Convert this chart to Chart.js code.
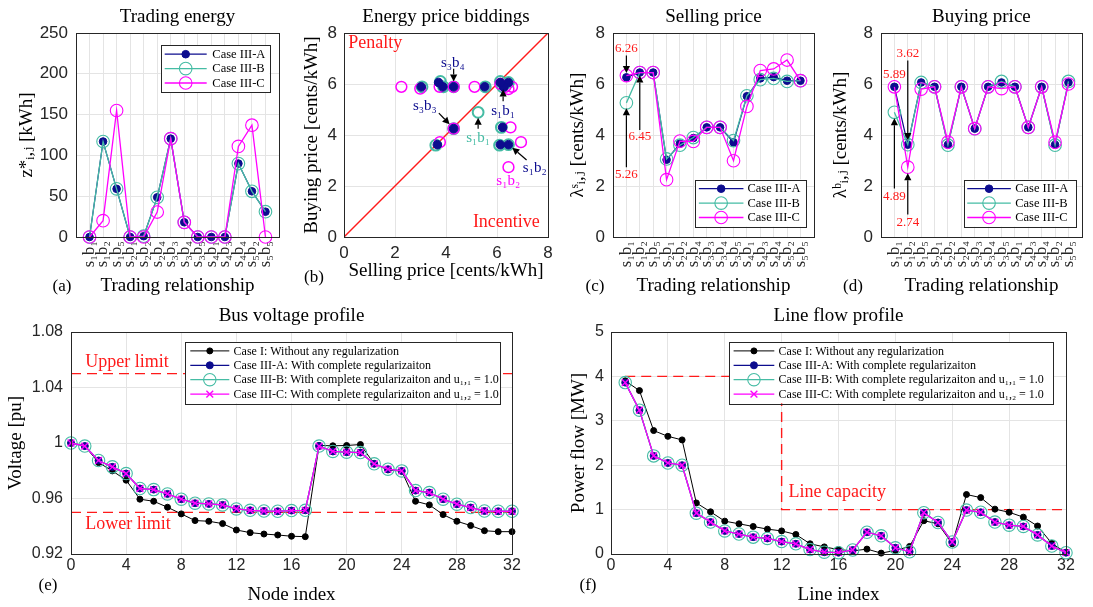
<!DOCTYPE html>
<html>
<head>
<meta charset="utf-8">
<script src="https://cdn.jsdelivr.net/npm/chart.js@4.4.1/dist/chart.umd.min.js"></script>
<style>
  body { margin: 0; background: #fff; width: 1093px; height: 607px; position: relative; overflow: hidden; }
  canvas { position: absolute; }
  .tag { position: absolute; font: 17px 'Liberation Serif', 'DejaVu Serif', serif; color: #000; transform: translate(-50%, -50%); }
</style>
</head>
<body>
<canvas id="ca" width="290" height="300" style="left:0;top:0"></canvas>
<canvas id="cb" width="270" height="300" style="left:290px;top:0"></canvas>
<canvas id="cc" width="265" height="300" style="left:560px;top:0"></canvas>
<canvas id="cd" width="265" height="300" style="left:828px;top:0"></canvas>
<canvas id="ce" width="550" height="307" style="left:0;top:300px"></canvas>
<canvas id="cf" width="543" height="307" style="left:550px;top:300px"></canvas>
<div class="tag" style="left:62px;top:286px">(a)</div>
<div class="tag" style="left:314px;top:277px">(b)</div>
<div class="tag" style="left:595px;top:286px">(c)</div>
<div class="tag" style="left:853px;top:286px">(d)</div>
<div class="tag" style="left:48px;top:585px">(e)</div>
<div class="tag" style="left:588px;top:585px">(f)</div>
<script>
// trading pairs (x axis of a, c, d)
const pairs = ['s₁b₁', 's₁b₂', 's₁b₅', 's₂b₁', 's₂b₂', 's₂b₄', 's₃b₃', 's₃b₄', 's₃b₅', 's₄b₁', 's₄b₃', 's₄b₄', 's₅b₂', 's₅b₅'];
const pairPos = [1, 2, 3, 4, 5, 6, 7, 8, 9, 10, 11, 12, 13, 14];

// trading energy [kWh]
const energyA = [0, 117, 59, 0, 1, 48.6, 120.5, 18, 0, 0, 0, 90, 56, 31];
const energyB = [0, 117, 59, 0, 1, 48.6, 120.5, 18, 0, 0, 0, 90, 56, 31];
const energyC = [0, 20, 155, 0, 0, 30.6, 120.5, 18, 0, 0, 0, 111, 137, 0];

// selling price [cents/kWh]
const sellA = [6.26, 6.45, 6.45, 3.03, 3.66, 3.88, 4.30, 4.30, 3.71, 5.52, 6.22, 6.27, 6.13, 6.13];
const sellB = [5.26, 6.45, 6.45, 3.06, 3.60, 3.90, 4.30, 4.30, 3.78, 5.54, 6.17, 6.22, 6.10, 6.13];
const sellC = [6.33, 6.45, 6.45, 2.25, 3.76, 3.75, 4.30, 4.30, 2.99, 5.12, 6.53, 6.59, 6.94, 6.13];

// buying price [cents/kWh]
const buyA = [5.89, 3.62, 6.06, 5.89, 3.62, 5.89, 4.25, 5.89, 6.06, 5.89, 4.30, 5.89, 3.62, 6.06];
const buyB = [4.89, 3.62, 6.06, 5.89, 3.60, 5.89, 4.25, 5.89, 6.10, 5.89, 4.30, 5.89, 3.60, 6.10];
const buyC = [5.89, 2.74, 5.80, 5.89, 3.72, 5.89, 4.25, 5.89, 5.82, 5.89, 4.30, 5.89, 3.72, 6.00];

// bus voltage [pu]
const nodes = [0, 1, 2, 3, 4, 5, 6, 7, 8, 9, 10, 11, 12, 13, 14, 15, 16, 17, 18, 19, 20, 21, 22, 23, 24, 25, 26, 27, 28, 29, 30, 31, 32];
const voltI = [1.0, 0.9978, 0.9859, 0.9799, 0.9732, 0.9595, 0.958, 0.9537, 0.9489, 0.9441, 0.9436, 0.9419, 0.9373, 0.9354, 0.9344, 0.9337, 0.9328, 0.9325, 0.9982, 0.998, 0.9982, 0.9989, 0.985, 0.9806, 0.9797, 0.958, 0.9554, 0.9484, 0.9436, 0.9405, 0.9368, 0.9361, 0.9361];
const voltA = [1.0, 0.9978, 0.9874, 0.9828, 0.978, 0.9672, 0.9664, 0.9633, 0.9595, 0.9566, 0.9561, 0.9554, 0.9525, 0.9515, 0.951, 0.9508, 0.9513, 0.9515, 0.9978, 0.9939, 0.9934, 0.9931, 0.985, 0.9811, 0.9799, 0.9657, 0.9643, 0.9595, 0.9559, 0.9535, 0.951, 0.9508, 0.9508];
const voltB = [1.0, 0.9978, 0.9874, 0.9828, 0.978, 0.9672, 0.9664, 0.9633, 0.9595, 0.9566, 0.9561, 0.9554, 0.9525, 0.9515, 0.951, 0.9508, 0.9513, 0.9515, 0.9978, 0.9939, 0.9934, 0.9931, 0.985, 0.9811, 0.9799, 0.9657, 0.9643, 0.9595, 0.9559, 0.9535, 0.951, 0.9508, 0.9508];
const voltC = [1.0, 0.9978, 0.9874, 0.9828, 0.978, 0.9672, 0.9664, 0.9633, 0.9595, 0.9566, 0.9561, 0.9554, 0.9525, 0.9515, 0.951, 0.9508, 0.9513, 0.9515, 0.9978, 0.9939, 0.9934, 0.9931, 0.985, 0.9811, 0.9799, 0.9657, 0.9643, 0.9595, 0.9559, 0.9535, 0.951, 0.9508, 0.9508];
const limitX = [0, 32];
const upperY = [1.05, 1.05];
const lowerY = [0.95, 0.95];

// line flow [MW]
const lines = [1, 2, 3, 4, 5, 6, 7, 8, 9, 10, 11, 12, 13, 14, 15, 16, 17, 18, 19, 20, 21, 22, 23, 24, 25, 26, 27, 28, 29, 30, 31, 32];
const flowI = [3.9, 3.68, 2.78, 2.65, 2.57, 1.15, 0.95, 0.74, 0.68, 0.62, 0.56, 0.52, 0.44, 0.23, 0.16, 0.1, 0.07, 0.11, 0.02, 0.08, 0.17, 0.75, 0.68, 0.23, 1.34, 1.27, 1.01, 0.94, 0.83, 0.63, 0.24, 0.03];
const flowA = [3.86, 3.24, 2.21, 2.05, 2.0, 0.92, 0.72, 0.52, 0.45, 0.38, 0.35, 0.28, 0.23, 0.1, 0.04, 0.03, 0.09, 0.49, 0.41, 0.14, 0.05, 0.93, 0.71, 0.27, 0.99, 0.94, 0.72, 0.65, 0.62, 0.43, 0.18, 0.03];
const flowB = [3.86, 3.24, 2.21, 2.05, 2.0, 0.92, 0.72, 0.52, 0.45, 0.38, 0.35, 0.28, 0.23, 0.1, 0.04, 0.03, 0.09, 0.49, 0.41, 0.14, 0.05, 0.93, 0.71, 0.27, 0.99, 0.94, 0.72, 0.65, 0.62, 0.43, 0.18, 0.03];
const flowC = [3.86, 3.24, 2.21, 2.05, 2.0, 0.92, 0.72, 0.52, 0.45, 0.38, 0.35, 0.28, 0.23, 0.1, 0.04, 0.03, 0.09, 0.49, 0.41, 0.14, 0.05, 0.93, 0.71, 0.27, 0.99, 0.94, 0.72, 0.65, 0.62, 0.43, 0.18, 0.03];
const capX = [1, 12, 12, 32];
const capY = [4, 4, 1, 1];

// tick labels
const energyTicks = [0, 50, 100, 150, 200, 250];
const priceTicks = [0, 2, 4, 6, 8];
const voltTicks = [0.92, 0.96, 1, 1.04, 1.08];
const flowTicks = [0, 1, 2, 3, 4, 5];
const indexTicks = [0, 4, 8, 12, 16, 20, 24, 28, 32];

const SERIF = "'Liberation Serif', 'DejaVu Serif', serif";
const SANS = "'Liberation Sans', Arial, sans-serif";
const NAVY = '#0c0c8e';
const TEAL = '#45bca4';
const MAG = '#ff00ff';
const RED = '#ff1a1a';
const INK = '#262626';

Chart.defaults.animation = false;
Chart.defaults.events = [];
Chart.defaults.plugins.legend.display = false;
Chart.defaults.plugins.tooltip.enabled = false;

// 축 설정
function axis(o) {
  return {
    type: 'linear', min: o.min, max: o.max,
    afterBuildTicks: s => { s.ticks = o.ticks.map(v => ({ value: v })); },
    afterFit: s => { if (s.isHorizontal()) s.height = o.size; else s.width = o.size; },
    grid: { color: '#e4e4e4', drawTicks: false },
    border: { color: INK },
    ticks: {
      color: INK, autoSkip: false, padding: o.pad,
      font: { family: o.tickFont || SANS, size: o.fs || 17 },
      minRotation: o.rot || 0, maxRotation: o.rot || 0,
      callback: o.fmt || (v => String(+v.toFixed(2)))
    },
    title: { display: true, text: o.title, color: '#000', font: { family: SERIF, size: 19 }, padding: o.tpad }
  };
}

function pts(xs, ys) {
  return ys.map((y, i) => ({ x: xs[i], y: y }));
}

function styleA(r) {
  return { borderColor: NAVY, backgroundColor: NAVY, borderWidth: 1.2, pointStyle: 'circle', pointRadius: r || 3.8,
    pointBackgroundColor: NAVY, pointBorderColor: NAVY, pointBorderWidth: 1, order: 3, clip: false };
}
function styleB(r) {
  return { borderColor: TEAL, backgroundColor: TEAL, borderWidth: 1.3, pointStyle: 'circle', pointRadius: r || 6.3,
    pointBackgroundColor: 'rgba(0,0,0,0)', pointBorderColor: TEAL, pointBorderWidth: 1.1, order: 2, clip: false };
}
function styleC(r) {
  return { borderColor: MAG, backgroundColor: MAG, borderWidth: 1.3, pointStyle: 'circle', pointRadius: r || 6.3,
    pointBackgroundColor: 'rgba(0,0,0,0)', pointBorderColor: MAG, pointBorderWidth: 1.1, order: 1, clip: false };
}
function styleI() {
  return { borderColor: '#000', backgroundColor: '#000', borderWidth: 1, pointStyle: 'circle', pointRadius: 3,
    pointBackgroundColor: '#000', pointBorderColor: '#000', pointBorderWidth: 1, order: 4, clip: false };
}
function dashed(xs, ys) {
  return { data: pts(xs, ys), borderColor: RED, borderWidth: 1.4, borderDash: [10, 6], pointRadius: 0, order: 5, clip: false };
}

function arrow(ctx, x1, y1, x2, y2) {
  const ang = Math.atan2(y2 - y1, x2 - x1);
  const len = 7, half = 3.6;
  const bx = x2 - Math.cos(ang) * len, by = y2 - Math.sin(ang) * len;
  ctx.strokeStyle = '#000';
  ctx.fillStyle = '#000';
  ctx.lineWidth = 1.2;
  ctx.beginPath();
  ctx.moveTo(x1, y1);
  ctx.lineTo(bx, by);
  ctx.stroke();
  ctx.beginPath();
  ctx.moveTo(x2, y2);
  ctx.lineTo(bx - Math.sin(ang) * half, by + Math.cos(ang) * half);
  ctx.lineTo(bx + Math.sin(ang) * half, by - Math.cos(ang) * half);
  ctx.closePath();
  ctx.fill();
}

function marker(ctx, d, x, y) {
  const r = d.pointRadius;
  ctx.lineWidth = d.pointBorderWidth;
  ctx.strokeStyle = d.pointBorderColor;
  ctx.fillStyle = d.pointBackgroundColor;
  ctx.beginPath();
  if (d.pointStyle === 'crossRot') {
    const k = r * Math.SQRT1_2;
    ctx.moveTo(x - k, y - k); ctx.lineTo(x + k, y + k);
    ctx.moveTo(x - k, y + k); ctx.lineTo(x + k, y - k);
    ctx.stroke();
    return;
  }
  ctx.arc(x, y, r, 0, Math.PI * 2);
  ctx.fill();
  ctx.stroke();
}

function drawLegend(chart, o) {
  const { ctx, chartArea: a } = chart;
  const sets = chart.data.datasets.filter(d => d.label);
  const bh = o.pad * 2 + sets.length * o.rowH;
  const bx = a.right - o.right - o.width;
  const by = o.top != null ? a.top + o.top : a.bottom - o.bottom - bh;
  ctx.fillStyle = '#fff';
  ctx.fillRect(bx, by, o.width, bh);
  ctx.strokeStyle = INK;
  ctx.lineWidth = 1;
  ctx.setLineDash([]);
  ctx.strokeRect(Math.round(bx) + 0.5, Math.round(by) + 0.5, Math.round(o.width), Math.round(bh));
  sets.forEach((d, i) => {
    const cy = by + o.pad + o.rowH * (i + 0.5);
    ctx.strokeStyle = d.borderColor;
    ctx.lineWidth = d.borderWidth;
    ctx.beginPath();
    ctx.moveTo(bx + o.l1, cy);
    ctx.lineTo(bx + o.l2, cy);
    ctx.stroke();
    marker(ctx, d, bx + (o.l1 + o.l2) / 2, cy);
    ctx.fillStyle = '#000';
    ctx.font = o.fs + 'px ' + SERIF;
    ctx.textAlign = 'left';
    ctx.textBaseline = 'middle';
    ctx.fillText(d.label, bx + o.tx, cy + 0.5);
  });
}

// 테두리, 주석, 범례
const deco = {
  id: 'deco',
  afterDraw(chart, args, o) {
    const { ctx, chartArea: a } = chart;
    const xs = chart.scales.x, ys = chart.scales.y;
    ctx.save();
    ctx.strokeStyle = INK;
    ctx.lineWidth = 1;
    ctx.strokeRect(Math.round(a.left) + 0.5, Math.round(a.top) + 0.5, Math.round(a.right - a.left), Math.round(a.bottom - a.top));
    (o.notes || []).forEach(n => {
      if (n.arrow) {
        const [x1, y1, x2, y2] = n.arrow;
        arrow(ctx, xs.getPixelForValue(x1), ys.getPixelForValue(y1), xs.getPixelForValue(x2), ys.getPixelForValue(y2));
      }
      if (n.text) {
        ctx.font = (n.size || 13) + 'px ' + SERIF;
        ctx.fillStyle = n.color || RED;
        ctx.textAlign = n.align || 'center';
        ctx.textBaseline = 'middle';
        ctx.fillText(n.text, xs.getPixelForValue(n.at[0]), ys.getPixelForValue(n.at[1]));
      }
    });
    if (o.legend) drawLegend(chart, o.legend);
    ctx.restore();
  }
};

const topTitle = (text) => ({ display: true, text: text, fullSize: false, color: '#000', font: { family: SERIF, size: 19, weight: 'normal' }, padding: { top: 5.6, bottom: 4.6 } });
const lowTitle = (text) => ({ display: true, text: text, fullSize: false, color: '#000', font: { family: SERIF, size: 19, weight: 'normal' }, padding: { top: 4.3, bottom: 4.9 } });
const pairAxis = {
  min: 0, max: 15, ticks: pairPos, size: 63, pad: 4, rot: 90, fs: 16.5, tickFont: SERIF,
  fmt: v => pairs[v - 1] || '', title: 'Trading relationship', tpad: { top: 0, bottom: 2.6 }
};
const smallLegend = { width: 109, rowH: 14.4, pad: 2, l1: 4, l2: 46, tx: 51.6, fs: 12.5 };

// (a) 거래 에너지
new Chart(document.getElementById('ca'), {
  type: 'line',
  data: {
    datasets: [
      Object.assign({ label: 'Case III-A', data: pts(pairPos, energyA) }, styleA()),
      Object.assign({ label: 'Case III-B', data: pts(pairPos, energyB) }, styleB()),
      Object.assign({ label: 'Case III-C', data: pts(pairPos, energyC) }, styleC())
    ]
  },
  options: {
    responsive: false,
    layout: { padding: { right: 10 } },
    scales: {
      x: axis(pairAxis),
      y: axis({ min: 0, max: 250, ticks: energyTicks, size: 76, pad: 8, title: 'z*ᵢ,ⱼ [kWh]', tpad: { top: 15.6, bottom: 0 } })
    },
    plugins: {
      title: topTitle('Trading energy'),
      deco: { legend: Object.assign({ right: 9.3, top: 12 }, smallLegend) }
    }
  },
  plugins: [deco]
});

// (b) 가격 입찰
new Chart(document.getElementById('cb'), {
  type: 'scatter',
  data: {
    datasets: [
      Object.assign({ data: sellA.map((s, i) => ({ x: s, y: buyA[i] })) }, styleA(4.3), { order: 1, showLine: false }),
      Object.assign({ data: sellB.map((s, i) => ({ x: s, y: buyB[i] })) }, styleB(5.4), { order: 3, pointBorderWidth: 2, showLine: false }),
      Object.assign({ data: sellC.map((s, i) => ({ x: s, y: buyC[i] })) }, styleC(5.4), { order: 2, pointBorderWidth: 1.5, showLine: false }),
      { data: pts([0, 8], [0, 8]), showLine: true, borderColor: RED, borderWidth: 1.4, pointRadius: 0, order: 4 }
    ]
  },
  options: {
    responsive: false,
    layout: { padding: { right: 12 } },
    scales: {
      x: axis({ min: 0, max: 8, ticks: priceTicks, size: 63, pad: 6, title: 'Selling price [cents/kWh]', tpad: { top: 0, bottom: 17.6 } }),
      y: axis({ min: 0, max: 8, ticks: priceTicks, size: 54, pad: 7, title: 'Buying price [cents/kWh]', tpad: { top: 10.6, bottom: 0 } })
    },
    plugins: {
      title: topTitle('Energy price biddings'),
      deco: {
        notes: [
          { text: 'Penalty', at: [0.17, 7.58], size: 18, align: 'left' },
          { text: 'Incentive', at: [7.68, 0.57], size: 18, align: 'right' },
          { text: 's₃b₄', at: [4.27, 6.84], size: 15, color: NAVY, arrow: [4.3, 6.6, 4.3, 6.1] },
          { text: 's₃b₃', at: [3.17, 5.12], size: 15, color: NAVY, arrow: [3.72, 4.86, 4.14, 4.42] },
          { text: 's₁b₁', at: [5.26, 3.88], size: 15, color: TEAL, arrow: [5.26, 4.25, 5.26, 4.68] },
          { text: 's₁b₁', at: [6.24, 4.93], size: 15, color: NAVY, arrow: [6.24, 5.32, 6.24, 5.78] },
          { text: 's₁b₂', at: [7.48, 2.7], size: 15, color: NAVY, arrow: [7.16, 3.02, 6.6, 3.5] },
          { text: 's₁b₂', at: [6.44, 2.18], size: 15, color: MAG }
        ]
      }
    }
  },
  plugins: [deco]
});

// (c) 판매 가격
new Chart(document.getElementById('cc'), {
  type: 'line',
  data: {
    datasets: [
      Object.assign({ label: 'Case III-A', data: pts(pairPos, sellA) }, styleA()),
      Object.assign({ label: 'Case III-B', data: pts(pairPos, sellB) }, styleB()),
      Object.assign({ label: 'Case III-C', data: pts(pairPos, sellC) }, styleC())
    ]
  },
  options: {
    responsive: false,
    layout: { padding: { right: 8 } },
    scales: {
      x: axis(pairAxis),
      y: axis({ min: 0, max: 8, ticks: priceTicks, size: 53, pad: 8, title: 'λˢᵢ,ⱼ [cents/kWh]', tpad: { top: 6.6, bottom: 0 } })
    },
    plugins: {
      title: topTitle('Selling price'),
      deco: {
        notes: [
          { text: '6.26', at: [1, 7.37], arrow: [1, 7.12, 1, 6.43] },
          { text: '6.45', at: [2, 3.95], arrow: [2, 4.2, 2, 6.33] },
          { text: '5.26', at: [1, 2.44], arrow: [1, 2.74, 1, 5.05] }
        ],
        legend: Object.assign({}, smallLegend, { right: 7.4, bottom: 10.3, width: 111, l1: 3.4, l2: 48, tx: 52 })
      }
    }
  },
  plugins: [deco]
});

// (d) 구매 가격
new Chart(document.getElementById('cd'), {
  type: 'line',
  data: {
    datasets: [
      Object.assign({ label: 'Case III-A', data: pts(pairPos, buyA) }, styleA()),
      Object.assign({ label: 'Case III-B', data: pts(pairPos, buyB) }, styleB()),
      Object.assign({ label: 'Case III-C', data: pts(pairPos, buyC) }, styleC())
    ]
  },
  options: {
    responsive: false,
    layout: { padding: { right: 8 } },
    scales: {
      x: axis(pairAxis),
      y: axis({ min: 0, max: 8, ticks: priceTicks, size: 53, pad: 8, title: 'λᵇᵢ,ⱼ [cents/kWh]', tpad: { top: 1.5, bottom: 0 } })
    },
    plugins: {
      title: topTitle('Buying price'),
      deco: {
        notes: [
          { text: '5.89', at: [1, 6.35] },
          { text: '3.62', at: [2, 7.18], arrow: [2, 6.92, 2, 3.8] },
          { text: '4.89', at: [1, 1.6], arrow: [1, 1.9, 1, 4.66] },
          { text: '2.74', at: [2, 0.58], arrow: [2, 0.88, 2, 2.5] }
        ],
        legend: Object.assign({}, smallLegend, { right: 6, bottom: 10.3, width: 112, l1: 3.4, l2: 47, tx: 51.3 })
      }
    }
  },
  plugins: [deco]
});

const wideLegendText = [
  'Case I: Without any regularization',
  'Case III-A: With complete regularizaiton',
  'Case III-B: With complete regularizaiton and u₁,₁ = 1.0',
  'Case III-C: With complete regularizaiton and u₁,₂ = 1.0'
];

// (e) 모선 전압
new Chart(document.getElementById('ce'), {
  type: 'line',
  data: {
    datasets: [
      Object.assign({ label: wideLegendText[0], data: pts(nodes, voltI) }, styleI()),
      Object.assign({ label: wideLegendText[1], data: pts(nodes, voltA) }, styleA(3.5)),
      Object.assign({ label: wideLegendText[2], data: pts(nodes, voltB) }, styleB(6.2)),
      Object.assign({ label: wideLegendText[3], data: pts(nodes, voltC) }, styleC(4.8), { pointStyle: 'crossRot', pointBorderWidth: 1.4 }),
      dashed(limitX, upperY),
      dashed(limitX, lowerY)
    ]
  },
  options: {
    responsive: false,
    layout: { padding: { right: 38 } },
    scales: {
      x: axis({ min: 0, max: 32, ticks: indexTicks, size: 53, pad: 2, fs: 16, title: 'Node index', tpad: { top: 0, bottom: 0.6 } }),
      y: axis({ min: 0.92, max: 1.08, ticks: voltTicks, size: 71, pad: 8, fs: 16, title: 'Voltage [pu]', tpad: { top: 4.6, bottom: 0 } })
    },
    plugins: {
      title: lowTitle('Bus voltage profile'),
      deco: {
        notes: [
          { text: 'Upper limit', at: [1.04, 1.0584], size: 18, align: 'left' },
          { text: 'Lower limit', at: [1.04, 0.9414], size: 18, align: 'left' }
        ],
        legend: { right: 11.7, top: 9.7, width: 315, rowH: 14.4, pad: 2, l1: 5, l2: 44, tx: 48.3, fs: 12 }
      }
    }
  },
  plugins: [deco]
});

// (f) 선로 조류
new Chart(document.getElementById('cf'), {
  type: 'line',
  data: {
    datasets: [
      Object.assign({ label: wideLegendText[0], data: pts(lines, flowI) }, styleI()),
      Object.assign({ label: wideLegendText[1], data: pts(lines, flowA) }, styleA(3.5)),
      Object.assign({ label: wideLegendText[2], data: pts(lines, flowB) }, styleB(6.2)),
      Object.assign({ label: wideLegendText[3], data: pts(lines, flowC) }, styleC(4.8), { pointStyle: 'crossRot', pointBorderWidth: 1.4 }),
      dashed(capX, capY)
    ]
  },
  options: {
    responsive: false,
    layout: { padding: { right: 27 } },
    scales: {
      x: axis({ min: 0, max: 32, ticks: indexTicks, size: 53, pad: 2, fs: 16, title: 'Line index', tpad: { top: 0, bottom: 0.6 } }),
      y: axis({ min: 0, max: 5, ticks: flowTicks, size: 61, pad: 7, fs: 16, title: 'Power flow [MW]', tpad: { top: 17.6, bottom: 0 } })
    },
    plugins: {
      title: lowTitle('Line flow profile'),
      deco: {
        notes: [
          { text: 'Line capacity', at: [12.49, 1.38], size: 18, align: 'left' }
        ],
        legend: { right: 12.7, top: 9.7, width: 324, rowH: 14.4, pad: 2, l1: 4.3, l2: 45, tx: 49.3, fs: 12 }
      }
    }
  },
  plugins: [deco]
});
</script>
</body>
</html>
